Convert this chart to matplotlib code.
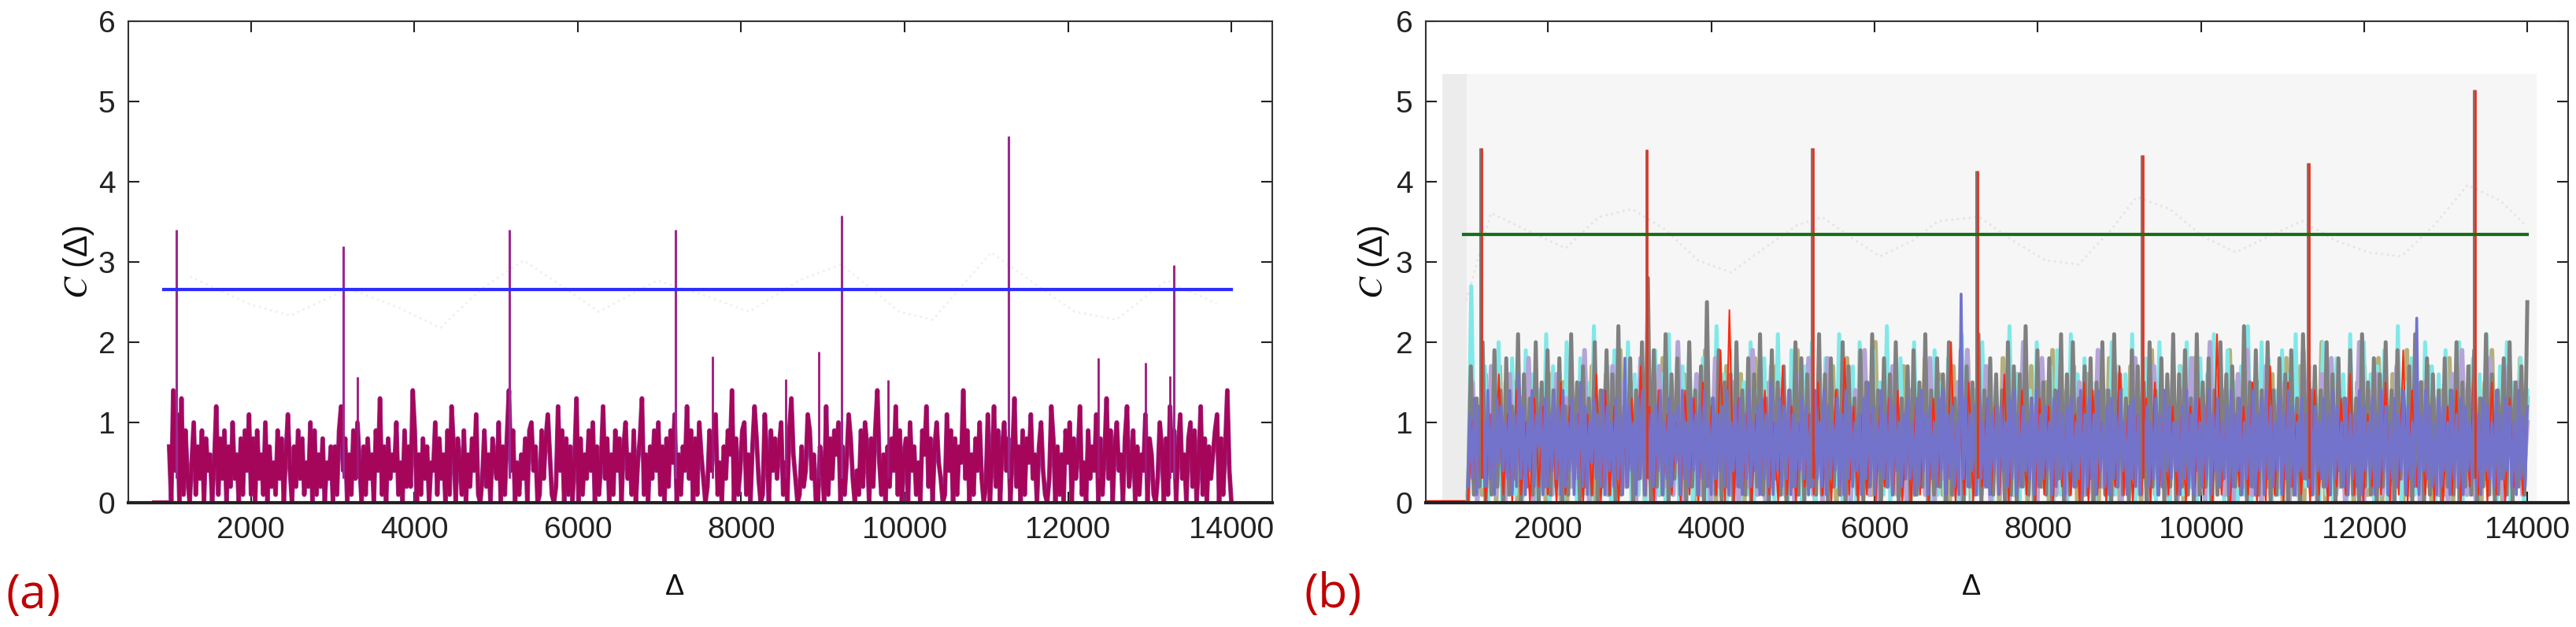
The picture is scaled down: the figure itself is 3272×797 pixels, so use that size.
import numpy as np
import matplotlib.pyplot as plt
from matplotlib.patches import Rectangle

# noise traces are typed as base-36 digits, value = digit / 10
# panel (a): single correlation trace
trace_a = ("70e4b0d19305a1739084605c1839072a3608194b"
           "1809361a0725193806b4072938152a0916280537"
           "0719c4806193a5071836094d1708364a1509272e"
           "9061837054a1836091c70851906284b103926085"
           "3a0718e4905163809a4701938b6102c49081705d"
           "0816394a0715c3806194807a3619058d1607394a"
           "1708295b06174c39081a6302948b1507396e0814"
           "9a1607c8301b6094837a1509d6301724b9360075"
           "0c18396a0715b8304192a70829e51607284c1906"
           "80a4715096c2807a5301b4908175e3906184a302"
           "b05c2907a4806d2709185b3607a4103c80716095"
           "a0836c1509374b0816d3907a4608c25907164b08"
           "6103a7081c4907b3608a2905c1807369b0817e40")
peaks_a_x = [1090, 3130, 5165, 7200, 9230, 11275, 13300]
peaks_a_y = [3.40, 3.20, 3.40, 3.40, 3.58, 4.57, 2.96]
spikes_a_x = [3300, 7650, 8550, 8950, 9800, 12370, 12950, 13250]
spikes_a_y = [1.57, 1.82, 1.54, 1.88, 1.53, 1.80, 1.75, 1.58]
thresh_a = 2.66
ghost_a_x = [1254, 1969, 2480, 3195, 3808, 4319, 4830, 5340, 5851, 6259, 6974, 7587,
             8098, 8711, 9222, 9937, 10345, 11060, 11469, 12082, 12592, 13205, 13818]
ghost_a_y = [2.82, 2.48, 2.33, 2.67, 2.43, 2.18, 2.67, 3.02, 2.67, 2.38, 2.77, 2.57,
             2.38, 2.77, 2.97, 2.38, 2.28, 3.12, 2.82, 2.38, 2.28, 2.77, 2.48]

# panel (b): several overlaid traces
trace_blue = ("2b3d1c4a2e3b1d5c4a3e1b2g3c1a4e2b7c1d2b4e"
              "3c1e2a4d1b3f2c1a5d3b2e1c4a2d3b1i2c4a1d3e"
              "1d3b2c4e1a3d2b5c1e3a2d4b1c3e2a1d3b4c2e1a"
              "4c2d1b3e2a4c1d3b2f1a4d2c3e1b2a4d3c1b2e3a"
              "2e1c3a4d2b1e3c2a4b1d3f2c1a4e3b2d1c4a2b3d"
              "3a1d2e4b1c3a2d4e1b3c2a1q3d2b4c1e3a2d1b4c"
              "1c4a2d3e1b2c4a3d1e2b3c4a1d2e3b1c4d2a3e1b"
              "2d3b1e4a2c1d3b2e4a1c3d2b1e4c2a3d1b2e4c3a"
              "4a1c3e2b1d4a2c3e1b4d2a3c1e2b4d1a3c2e1b4d"
              "1e3c2a4d1b3e2c1a4d3b2e1c4a3d2b1e3c4a2d1b"
              "3b2e1c4a3d1b2e4c1a3d2b4e1c3a2n1b4e3c2a1d"
              "2c4a1e3b2d1c4a3e2b1d4c3a2e1b3d4c2a1e3b2c")
trace_gray = ("0h1d2k0b1j2e0i1c3l0g2d1k0f2j1e"
              "2i0c1l3f0h2d1k0e2j1g0m1c2i0e3k"
              "1s0j2d1l0g3i1c0k2e1h0p2d1j0f2g"
              "0k2e1i0g2l1d0j3f1h0e2k1i0g2d1l"
              "1g0i2e1k0h3d1j0f2l1e0i2g1k0d3h"
              "0j1f2l0e1i2g0k1d3j0h2f1l0e2i1g"
              "2e0k1h0g2m1d0j2f1i0e3l0g1k2d0h"
              "1i0f2k1e0l2g1d0j3h1f0k2e1i0g2l"
              "0g2j1d0l1f2i0e1k3g0h2d1m0f2j1e"
              "2k0e1i2g0j1d0l3f1h0e2k1g0i2d1j"
              "1d0l2f1i0g2k1e0j3d1h0l2f0i1g2e"
              "0i2e1k0f2h1j0d2l1g0e3i1k0f2h1p")
trace_khaki = ("0e2a1g3c0h1b2f0d4i1a2e0g3"
               "b1f0i2c1e3h0a2g1d0j2b3f1e"
               "0h2c1i0e3a1g2d0f1j2b0e3h1"
               "c2g0d1i3b0f2h1e0c2j1a3g0d"
               "2f1h0b3i1e0g2c1k0d3f2a1h0"
               "e1c2i0f3g1b0h2d1j0e3c2g1a"
               "0i2e1g3b0h1d2f0j1c3e2h0a1"
               "g2c0f1i3d0e2h1b0g3j1f2c0e"
               "1h0d2i1c3f0g2e1j0b3h2d1f0"
               "c2g1e0i3b1h0f2d1k0c3g2e1a"
               "0f2h1c3i0d1g2e0j1b3f2h0c1"
               "e1i0g2d3h1c0f2j1e0g3b2i1d")
trace_cyan = ("0r1c2h0e1k0f2i1d0j2g0e1l0h"
              "1g0k2d0i1f0m2e1h0j1c2k0g1i"
              "0e2j1g0l1d0h2k0f1i0d2m1g0j"
              "2h0f1k0e2i1g0l1d0j2f0h1k0e"
              "1i0d2l0g1h0k2e1j0f1m0d2i1g"
              "0k1e2h0j1f0i2d0l1g0e1k2h0f"
              "2d0m1g0i1e0k2f1h0j1d0l2g0i"
              "1f0j2e0k1h0g1l0d2i1f0k2e0j"
              "0h1k2d0i1g0l1e0j2f0h1m0d2k"
              "2i0e1j0g1l0f2h1d0k1e0i2g0l"
              "1e0k2g0h1j0d1m0f2i1e0k2h0g"
              "0j1f2k0e1i0g2l1d0h1k0f2i0e")
trace_lav = ("1f0c2h1a0g3d1i0b2e1" "g0d2a1j0e3c1h0f2b0i" "1d0h2c1k0a3g1e0i2d1"
             "f0b2j1c0h3e1a0g2i1d" "0i2c1g0e3j1b0f2h1c0" "e2a1i0d3g1f0j2c1h0b"
             "1g0e2k1c0i3b1h0d2f1" "a0j2e1g0c3i1d0h2b1f" "0e2i1b0k3f1c0g2j1d0"
             "h1c2f0a1j3e0g2i1b0d" "1k0e2g1c0h3a1i0f2d1" "b0g2j1e0d3i1c0h2f1a")
trace_red = ("0a1c0b2g1b0e1a0d2c1a" "0f1c2b0b1g0e1c0a2d1h" "1c0e2b1a0e1d0f2c1j0o"
             "0d1b0b2e1a0h1c0a2b1f" "1a0e2i1c0b1b0c2d1e0a" "0c1a0d2b1k0a1f0e2c1c"
             "1g0b2e1a0d1c0c2a1b0f" "0e1a0a2h1c0b1d0f2b1c" "1b0c2d1e0l1a0b2c1f0a"
             "0h1c0f2b1b0e1a0a2d1g" "1d0b2a1f0c1j0e2b1c0a" "0c1e0b2i1c0f1b0d2a1c")
peaks_b_x = [1168, 3197, 5225, 7243, 9272, 11310, 13339]
peaks_b_y = [4.42, 4.40, 4.42, 4.14, 4.33, 4.24, 5.15]
thresh_b = 3.34
ghost_b_x = [996, 1300, 1706, 2213, 2619, 3024, 3430, 3836, 4241, 4647, 5053, 5357,
             5763, 6067, 6473, 6777, 7284, 7690, 8095, 8501, 8907, 9211, 9617, 10022,
             10428, 10834, 11239, 11645, 12051, 12456, 12862, 13268, 13674, 13978]
ghost_b_y = [2.52, 3.61, 3.41, 3.17, 3.56, 3.66, 3.41, 3.02, 2.87, 3.17, 3.46, 3.56,
             3.27, 3.07, 3.27, 3.51, 3.56, 3.27, 3.02, 2.97, 3.41, 3.81, 3.66, 3.32,
             3.12, 3.32, 3.51, 3.27, 3.12, 3.07, 3.46, 3.96, 3.76, 3.46]

xticks = [2000, 4000, 6000, 8000, 10000, 12000, 14000]
yticks = [0, 1, 2, 3, 4, 5, 6]


def decode(s):
    return np.array([int(c, 36) for c in s]) / 10.0


def style_axes(ax):
    ax.set_xlim(500, 14500)
    ax.set_ylim(0, 6)
    ax.set_xticks(xticks)
    ax.set_yticks(yticks)
    ax.tick_params(direction='in', length=10, width=1.5, top=True, right=True,
                   labelsize=28, pad=12, colors='#222222')
    for side in ['left', 'top', 'right']:
        ax.spines[side].set_linewidth(1.5)
        ax.spines[side].set_color('#333333')
    ax.spines['bottom'].set_linewidth(3)
    ax.spines['bottom'].set_color('#222222')
    ax.set_facecolor('white')


plt.rcParams['font.family'] = ['Liberation Sans', 'DejaVu Sans']
plt.rcParams['mathtext.fontset'] = 'stix'

W, H = 3273, 797
fig = plt.figure(figsize=(W / 100, H / 100), dpi=100)
ax_a = fig.add_axes([163 / W, 1 - 639 / H, (1616 - 163) / W, (639 - 27) / H])
ax_b = fig.add_axes([1811 / W, 1 - 639 / H, (3262 - 1811) / W, (639 - 27) / H])

# ---- panel (a)
style_axes(ax_a)
ax_a.plot(ghost_a_x, ghost_a_y, color='#f0f0f0', lw=2, ls=':')
ya = decode(trace_a)
xa = np.linspace(1000, 14000, len(ya))
ax_a.plot([800, 1000], [0.02, 0.02], color='#a0105a', lw=2)
ax_a.plot(xa, ya, color='#9a3a9a', lw=4.2)
ax_a.plot(xa, ya, color='#a6065a', lw=3.2)
ax_a.vlines(spikes_a_x, 0.3, spikes_a_y, color='#a0187a', lw=2)
ax_a.vlines(peaks_a_x, 0.3, peaks_a_y, color='#9c2a8e', lw=2.2)
ax_a.plot([930, 14000], [thresh_a, thresh_a], color='#2d2dff', lw=3)

# ---- panel (b)
style_axes(ax_b)
ax_b.add_patch(Rectangle((700, 0), 14110 - 700, 5.34, color='#f6f6f6', lw=0, zorder=0))
ax_b.add_patch(Rectangle((700, 0), 300, 5.34, color='#ececec', lw=0, zorder=0))
ax_b.plot(ghost_b_x, ghost_b_y, color='#ebe2e4', lw=2, ls=':')
ax_b.plot([500, 1016], [0.02, 0.02], color='#e02010', lw=2.5)
series_b = [(trace_khaki, '#b5b07a', 4.2), (trace_cyan, '#80e8e8', 3.6),
            (trace_lav, '#b4a4d8', 4.2), (trace_gray, '#808080', 3.6),
            (trace_red, '#ff2a10', 1.5), (trace_blue, '#7373cc', 2.6)]
for s, c, lw in series_b:
    yb = decode(s)
    xb = np.linspace(1016, 14000, len(yb))
    ax_b.plot(xb, yb, color=c, lw=lw)
ax_b.vlines(peaks_b_x, 0.3, peaks_b_y, color='#7a7a7a', lw=2.2)
ax_b.vlines([x + 18 for x in peaks_b_x], 0.3, peaks_b_y, color='#e8321e', lw=2)
ax_b.plot([965, 14000], [thresh_b, thresh_b], color='#1a6e1a', lw=3)

# ---- labels
for x0 in [100, 1745]:
    fig.text(x0 / W, 1 - 333 / H, r'$C$ (Δ)', rotation=90, fontsize=30,
             ha='center', va='center', color='#111111')
for x0 in [857, 2504]:
    fig.text(x0 / W, 1 - 746 / H, 'Δ', fontsize=26, ha='center', va='center',
             color='#111111')
fig.text(42 / W, 1 - 757 / H, '(a)', fontsize=44, color='#c00000',
         ha='center', va='center', family=['Open Sans', 'DejaVu Sans'])
fig.text(1693 / W, 1 - 756 / H, '(b)', fontsize=44, color='#c00000',
         ha='center', va='center', family=['Open Sans', 'DejaVu Sans'])

fig.savefig('out.png', dpi=100)
